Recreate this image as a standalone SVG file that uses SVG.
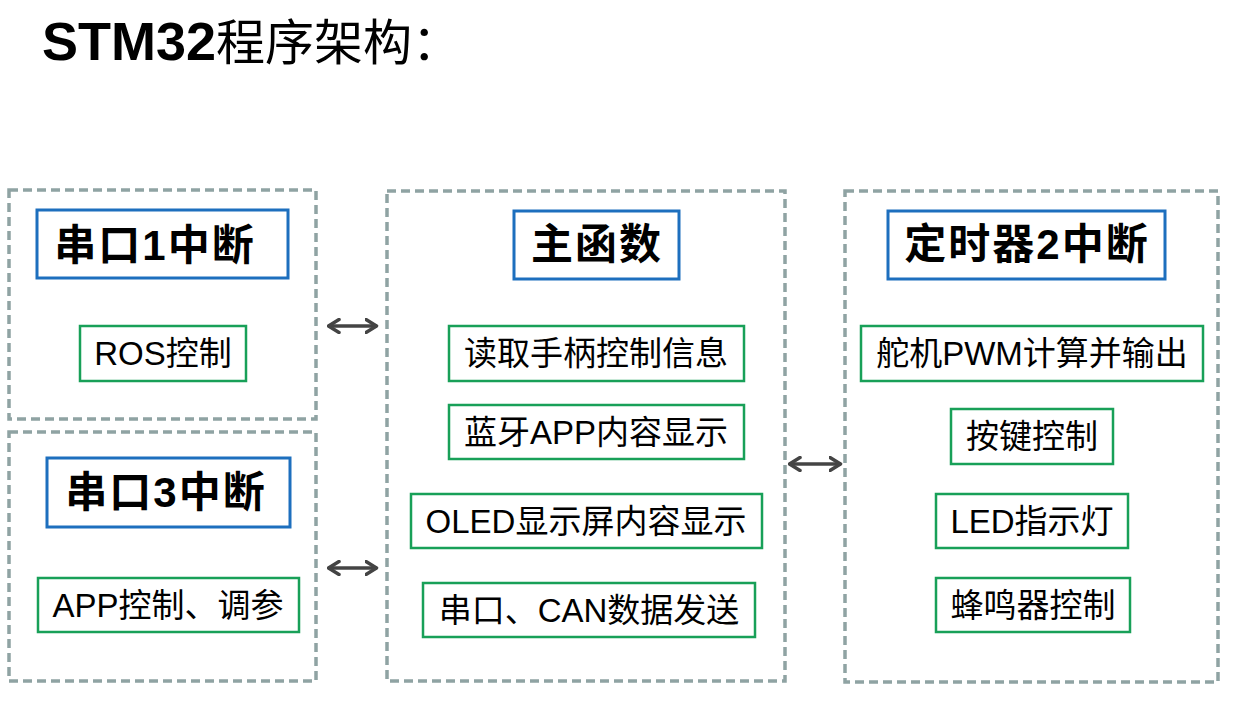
<svg xmlns="http://www.w3.org/2000/svg" width="1242" height="713" viewBox="0 0 1242 713">
<style>
text{font-family:"Liberation Sans","Noto Sans CJK SC",sans-serif;fill:#000;text-anchor:middle}
.grp{fill:none;stroke:#8fa3a3;stroke-width:3.5;stroke-dasharray:9 5}
.hdr{fill:#fff;stroke:#1d6fbe;stroke-width:3}
.item{fill:#fff;stroke:#18a058;stroke-width:2.5}
.ht{font-size:42px;font-weight:bold;letter-spacing:2px}
.it{font-size:33px}
.conn{stroke:#444;stroke-width:3.5;fill:none;marker-start:url(#ah);marker-end:url(#ah)}
</style>
<defs>
<marker id="ah" viewBox="0 0 14 16" refX="12.5" refY="8" markerWidth="14" markerHeight="16" markerUnits="userSpaceOnUse" orient="auto-start-reverse">
<path d="M1.5,1.5 L12,8 L1.5,14.5" fill="none" stroke="#444" stroke-width="3.5" stroke-linecap="round" stroke-linejoin="round"/>
</marker>
</defs>
<rect width="1242" height="713" fill="#fff"/>
<g id="title">
<text x="42" y="60" style="text-anchor:start"><tspan font-size="54" font-weight="bold">STM32</tspan><tspan font-size="49">程序架构：</tspan></text>
</g>
<g id="uart1">
<rect class="grp" x="9" y="190" width="307" height="229"/>
<rect class="hdr" x="37" y="210" width="251" height="68"/>
<text class="ht" x="155" y="260">串口1中断</text>
<rect class="item" x="80" y="326" width="166" height="55"/>
<text class="it" x="163" y="365">ROS控制</text>
</g>
<g id="uart3">
<rect class="grp" x="9" y="432" width="307" height="249"/>
<rect class="hdr" x="47" y="458" width="243" height="69"/>
<text class="ht" x="166" y="507">串口3中断</text>
<rect class="item" x="38" y="578" width="261" height="54"/>
<text class="it" x="168" y="617">APP控制、调参</text>
</g>
<g id="main">
<rect class="grp" x="387" y="191" width="398" height="490"/>
<rect class="hdr" x="514" y="211" width="165" height="68"/>
<text class="ht" x="597" y="259">主函数</text>
<rect class="item" x="449" y="326" width="295" height="55"/>
<text class="it" x="596" y="365">读取手柄控制信息</text>
<rect class="item" x="449" y="405" width="295" height="54"/>
<text class="it" x="596" y="444">蓝牙APP内容显示</text>
<rect class="item" x="411" y="494" width="351" height="54"/>
<text class="it" x="586" y="533">OLED显示屏内容显示</text>
<rect class="item" x="423" y="583" width="332" height="54"/>
<text class="it" x="589" y="622">串口、CAN数据发送</text>
</g>
<g id="timer2">
<rect class="grp" x="845" y="191" width="373" height="491"/>
<rect class="hdr" x="888" y="211" width="277" height="68"/>
<text class="ht" x="1027" y="259">定时器2中断</text>
<rect class="item" x="861" y="326" width="342" height="55"/>
<text class="it" x="1032" y="365">舵机PWM计算并输出</text>
<rect class="item" x="951" y="409" width="162" height="55"/>
<text class="it" x="1032" y="448">按键控制</text>
<rect class="item" x="936" y="494" width="192" height="54"/>
<text class="it" x="1032" y="533">LED指示灯</text>
<rect class="item" x="936" y="578" width="194" height="54"/>
<text class="it" x="1033" y="617">蜂鸣器控制</text>
</g>
<g id="connectors">
<line class="conn" x1="328" y1="326" x2="377" y2="326"/>
<line class="conn" x1="328" y1="568" x2="377" y2="568"/>
<line class="conn" x1="789" y1="464" x2="841" y2="464"/>
</g>
</svg>
